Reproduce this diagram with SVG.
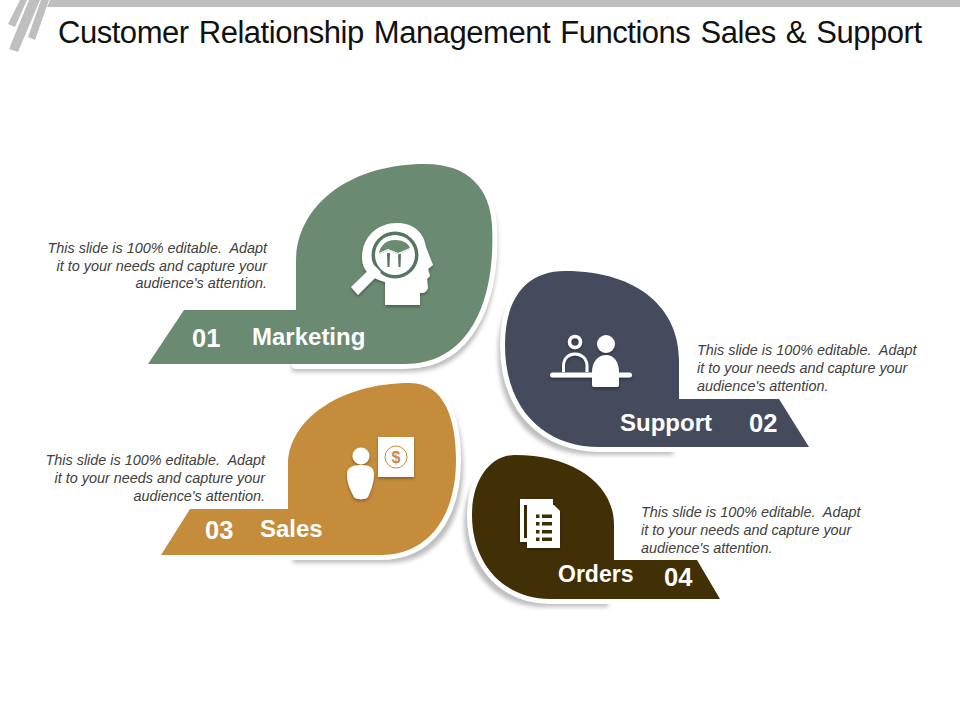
<svg xmlns="http://www.w3.org/2000/svg" width="960" height="720" viewBox="0 0 960 720">
<style>
text{font-family:"Liberation Sans",Arial,sans-serif}
.title{font-size:31px;fill:#111}
.b{font-size:14.4px;font-style:italic;fill:#404040;white-space:pre}
.r{text-anchor:end}
.lab{font-size:24px;font-weight:bold;fill:#fff}
.num{font-size:25.500px;font-weight:bold;fill:#fff}
.halo{fill:#fff;stroke:#fff;stroke-width:10;stroke-linejoin:round}
.shade{fill:#a8a8a8;opacity:.75;filter:url(#sh)}
.ic{filter:url(#ish)}
</style>
<defs>
<filter id="sh" x="-15%" y="-15%" width="130%" height="130%"><feGaussianBlur stdDeviation="2"/></filter>
<filter id="ish" x="-20%" y="-20%" width="140%" height="140%"><feDropShadow dx="0" dy="2" stdDeviation="1.500" flood-color="#000" flood-opacity=".3"/></filter>
</defs>
<rect width="960" height="720" fill="#fff"/>
<g id="header" fill="#bfbfbf">
<polygon points="50,0 960,0 960,7 47,7"/>
<polygon points="20,0 27,0 15,27 8,24"/>
<polygon points="29,0 40,0 18,52 9,49"/>
<polygon points="41,0 49,0 35,40 28,37"/>
</g>
<text class="title" x="58" y="43" textLength="864" lengthAdjust="spacing" style="word-spacing:2px">Customer Relationship Management Functions Sales &amp; Support</text>

<g id="node-marketing">
<path class="shade" d="M292,372 V360 H301 V268 C301,211 355,170 430,170 C475,170 495,196 497,231 C501,306 475,372 410,372 Z"/>
<path class="halo" d="M296,364 V262 C296,205 350,164 425,164 C470,164 490,190 492,225 C496,300 470,364 405,364 Z"/>
<path fill="#6a8a72" d="M148,364 L184,310 H296 V262 C296,205 350,164 425,164 C470,164 490,190 492,225 C496,300 470,364 405,364 Z"/>
<g class="ic">
<path fill="#fff" d="M362,258 C362,236 378,223 397,223 C414,223 424,233 426,247 L433,265 L428,269 L430,276 L427,279 L428,288 C426,293 423,293 420,293 V305 H385 V282 C370,278 362,270 362,258 Z"/>
<circle cx="395" cy="255" r="23.500" fill="#56755e"/>
<circle cx="395" cy="255" r="20" fill="#fff"/>
<path fill="#6a8a72" d="M379,253 C381,244 387,240 395,240 C403,240 408,243 410,248 L398,253 L388,249 Z"/>
<path fill="#56755e" d="M387,253 h3 l-.5,14 h-2 Z M398,254 h3 l-.5,13 h-2 Z"/>
<polyline points="379,254 388,250 398,254 410,249" fill="none" stroke="#dfe7e1" stroke-width="1.500"/>
<polygon fill="#fff" points="351,287 358,295 381,272 374,265"/>
</g>
<text class="num" x="192" y="347">01</text>
<text class="lab" x="252" y="345">Marketing</text>
</g>
<text class="b r" id="text-1"><tspan x="267" y="253">This slide is 100% editable.  Adapt</tspan><tspan x="267" y="271">it to your needs and capture your</tspan><tspan x="267" y="288">audience's attention.</tspan></text>

<g id="node-support">
<path class="shade" d="M673,455 V368 C673,318 634,279 559,279 C519,279 498,308 498,353 C498,418 538,455 593,455 Z"/>
<path class="halo" d="M679,447 V360 C679,310 640,271 565,271 C525,271 505,300 505,345 C505,410 545,447 600,447 Z"/>
<path fill="#454b5c" d="M809,447 L779,399 H679 V360 C679,310 640,271 565,271 C525,271 505,300 505,345 C505,410 545,447 600,447 Z"/>
<g class="ic" fill="#fff">
<circle cx="575" cy="342" r="5.500" fill="none" stroke="#fff" stroke-width="3.500"/>
<path d="M563.500,372 V366 C563.500,358 569,354 575,354 C581,354 587,358 587,366 V372" fill="none" stroke="#fff" stroke-width="3"/>
<rect x="550" y="372.500" width="82" height="5" rx="2.500"/>
<circle cx="606" cy="344" r="9"/>
<path d="M592,372 C592,362 598,355 606,355 C614,355 619,362 619,372 V385 Q619,387 617,387 H594 Q592,387 592,385 Z"/>
</g>
<text class="lab" x="620" y="431">Support</text>
<text class="num" x="749" y="432">02</text>
</g>
<text class="b" id="text-2"><tspan x="697" y="355">This slide is 100% editable.  Adapt</tspan><tspan x="697" y="373">it to your needs and capture your</tspan><tspan x="697" y="391">audience's attention.</tspan></text>

<g id="node-sales">
<path class="shade" d="M293,563 V473 C293,428 345,391 417,391 C452,391 463,428 463,468 C463,523 437,563 387,563 Z"/>
<path class="halo" d="M288,555 V465 C288,420 340,383 410,383 C445,383 456,420 456,460 C456,515 430,555 380,555 Z"/>
<path fill="#c58c3c" d="M161,555 L190,509 H288 V465 C288,420 340,383 410,383 C445,383 456,420 456,460 C456,515 430,555 380,555 Z"/>
<g class="ic" fill="#fff">
<circle cx="361" cy="456" r="8.500"/>
<path d="M347,474 C347,468 352,465 361,465 C370,465 374,468 374,474 C374,484 370,492 368,497 C366,500 356,500 354,497 C351,491 347,484 347,474 Z"/>
<rect x="378" y="437" width="36" height="40"/>
</g>
<circle cx="396" cy="457" r="11" fill="none" stroke="#c58c3c"/>
<text x="396" y="463" text-anchor="middle" style="font-size:16px;font-weight:bold;fill:#c58c3c">$</text>
<text class="num" x="205" y="539">03</text>
<text class="lab" x="260" y="537">Sales</text>
</g>
<text class="b r" id="text-3"><tspan x="265" y="465">This slide is 100% editable.  Adapt</tspan><tspan x="265" y="483">it to your needs and capture your</tspan><tspan x="265" y="501">audience's attention.</tspan></text>

<g id="node-orders">
<path class="shade" d="M608,607 V533 C608,493 569,463 508,463 C483,463 464,488 464,523 C464,573 498,607 543,607 Z"/>
<path class="halo" d="M614,599 V525 C614,485 575,455 515,455 C490,455 472,480 472,515 C472,565 505,599 550,599 Z"/>
<path fill="#412f06" d="M720,599 L697,560 H614 V525 C614,485 575,455 515,455 C490,455 472,480 472,515 C472,565 505,599 550,599 Z"/>
<g class="ic">
<path fill="#fff" d="M520,499 H553 V505 H524 V538 H527 V542 H520 Z"/>
<path fill="#fff" d="M527,505 H554 L560,511 V548 H527 Z"/>
<path fill="#412f06" d="M536,514.500h3.500v3.500h-3.500z M542,514.500h10v3.500h-10z M536,522h3.500v3.500h-3.500z M542,522h10v3.500h-10z M536,530h3.500v3.500h-3.500z M542,530h10v3.500h-10z M536,537.500h3.500v3.500h-3.500z M542,537.500h10v3.500h-10z"/>
</g>
<text class="lab" x="558" y="582" style="font-size:23px">Orders</text>
<text class="num" x="664" y="586">04</text>
</g>
<text class="b" id="text-4"><tspan x="641" y="517">This slide is 100% editable.  Adapt</tspan><tspan x="641" y="535">it to your needs and capture your</tspan><tspan x="641" y="553">audience's attention.</tspan></text>
</svg>
